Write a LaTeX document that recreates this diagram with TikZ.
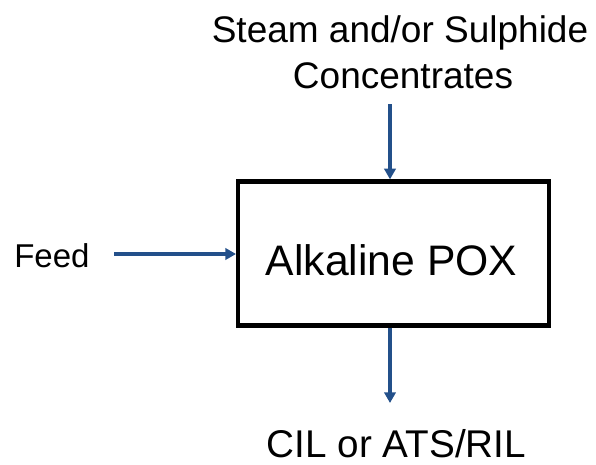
\documentclass[tikz,border=0pt]{standalone}
\usepackage{fontspec}
\setmainfont{Liberation Sans}
\usetikzlibrary{arrows.meta}
\definecolor{arrblue}{HTML}{23508A}
\begin{document}
\begin{tikzpicture}[x=0.75pt,y=-0.75pt,
  flow/.style={draw=arrblue,line width=2.9pt,-{Triangle[length=8pt,width=8.5pt]}},
  procbox/.style={draw=black,line width=3.2pt,rectangle,minimum width=233pt,minimum height=108pt,inner sep=0pt},
  lbl/.style={inner sep=0pt,anchor=base}]
\useasboundingbox (0,0) rectangle (596,464);
\node[procbox] (box) at (393.5,253.5) {};
\node[lbl,font=\fontsize{32}{36}\selectfont] (pox) at (391.5,275) {Alkaline POX};
\node[lbl,font=\fontsize{27.75}{32}\selectfont] (steam) at (400,42) {Steam and/or Sulphide};
\node[lbl,font=\fontsize{27.75}{32}\selectfont] (conc) at (403,88) {Concentrates};
\node[lbl,anchor=base west,font=\fontsize{24.75}{28}\selectfont] (feed) at (14,267) {Feed};
\node[lbl,font=\fontsize{29}{33}\selectfont] (cil) at (396.5,457) {CIL or ATS/RIL};
\coordinate (topsrc) at (390,104);
\coordinate (feedsrc) at (114,254);
\coordinate (botend) at (390,403);
\draw[flow] (topsrc) -- (topsrc |- box.north);
\draw[flow] (feedsrc) -- (feedsrc -| box.west);
\draw[flow] (botend |- box.south) -- (botend);
\end{tikzpicture}
\end{document}
